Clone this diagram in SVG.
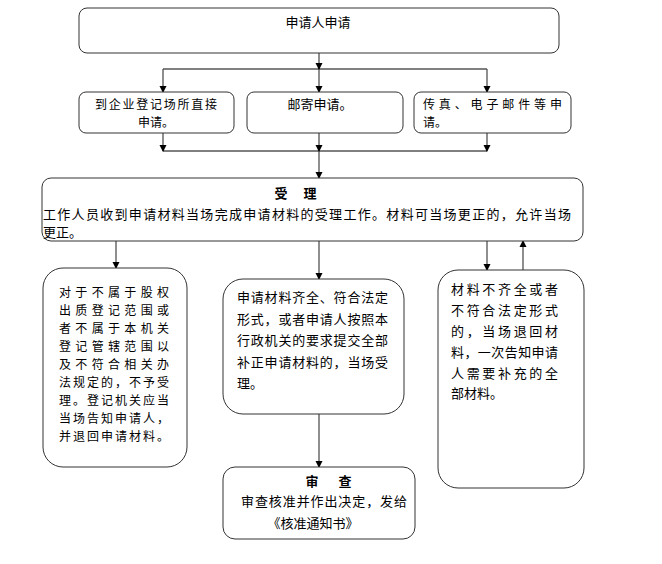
<svg xmlns="http://www.w3.org/2000/svg" width="662" height="564" viewBox="0 0 662 564">
<style>
.box{fill:#fff;stroke:#333;stroke-width:1}
.t{font-family:"Noto Sans CJK SC","Liberation Sans",sans-serif;font-size:13px;fill:#000}
.s{font-size:12px}
.b{font-weight:bold}
.c{text-anchor:middle}
.ln{stroke:#000;stroke-width:1;fill:none}
.vl{stroke:#444;stroke-width:1.2;fill:none}
</style>
<defs>
<marker id="ah" markerWidth="8" markerHeight="8" refX="6" refY="4" orient="auto" markerUnits="userSpaceOnUse">
<path d="M0,0.5 L7,4 L0,7.5 Z" fill="#000"/>
</marker>
</defs>
<rect width="662" height="564" fill="#fff"/>
<g id="connectors">
<line class="vl" x1="319" y1="53" x2="319" y2="69" marker-end="url(#ah)"/>
<line class="ln" x1="163" y1="69" x2="487" y2="69"/>
<line class="vl" x1="163" y1="69" x2="163" y2="92" marker-end="url(#ah)"/>
<line class="vl" x1="319" y1="69" x2="319" y2="92" marker-end="url(#ah)"/>
<line class="vl" x1="487" y1="69" x2="487" y2="92" marker-end="url(#ah)"/>
<line class="vl" x1="163" y1="133" x2="163" y2="151" marker-end="url(#ah)"/>
<line class="vl" x1="319" y1="133" x2="319" y2="151" marker-end="url(#ah)"/>
<line class="vl" x1="487" y1="133" x2="487" y2="151" marker-end="url(#ah)"/>
<line class="ln" x1="163" y1="151" x2="487" y2="151"/>
<line class="vl" x1="319" y1="151" x2="319" y2="178" marker-end="url(#ah)"/>
<line class="vl" x1="116" y1="241" x2="116" y2="268" marker-end="url(#ah)"/>
<line class="vl" x1="319" y1="241" x2="319" y2="279" marker-end="url(#ah)"/>
<line class="vl" x1="487" y1="241" x2="487" y2="270" marker-end="url(#ah)"/>
<line class="vl" x1="523" y1="270" x2="523" y2="241" marker-end="url(#ah)"/>
<line class="vl" x1="319" y1="414" x2="319" y2="467" marker-end="url(#ah)"/>
</g>
<g id="n-apply">
<rect class="box" x="79" y="8" width="480" height="45" rx="8"/>
<text class="t c" x="318" y="27">申请人申请</text>
</g>
<g id="n-direct">
<rect class="box" x="79" y="92" width="155" height="41" rx="7"/>
<text class="t s c" x="156" y="109" textLength="122" lengthAdjust="spacing">到企业登记场所直接</text>
<text class="t s c" x="156" y="127">申请。</text>
</g>
<g id="n-mail">
<rect class="box" x="247" y="92" width="156" height="41" rx="7"/>
<text class="t c" x="320" y="109">邮寄申请。</text>
</g>
<g id="n-fax">
<rect class="box" x="414" y="92" width="157" height="41" rx="7"/>
<text class="t s" x="423" y="109" textLength="139" lengthAdjust="spacing">传真、电子邮件等申</text>
<text class="t s" x="423" y="127">请。</text>
</g>
<g id="n-accept">
<rect class="box" x="42" y="178" width="541" height="63" rx="9"/>
<text class="t b c" x="281" y="198">受</text>
<text class="t b c" x="310" y="198">理</text>
<text class="t" x="43" y="219" textLength="528" lengthAdjust="spacing">工作人员收到申请材料当场完成申请材料的受理工作。材料可当场更正的，允许当场</text>
<text class="t" x="43" y="237">更正。</text>
</g>
<g id="n-reject">
<rect class="box" x="43" y="268" width="144" height="199" rx="20"/>
<text class="t s" x="59" y="297" textLength="110" lengthAdjust="spacing">对于不属于股权</text>
<text class="t s" x="59" y="315" textLength="110" lengthAdjust="spacing">出质登记范围或</text>
<text class="t s" x="59" y="333" textLength="110" lengthAdjust="spacing">者不属于本机关</text>
<text class="t s" x="59" y="351" textLength="110" lengthAdjust="spacing">登记管辖范围以</text>
<text class="t s" x="59" y="369" textLength="110" lengthAdjust="spacing">及不符合相关办</text>
<text class="t s" x="59" y="387" textLength="110" lengthAdjust="spacing">法规定的，不予受</text>
<text class="t s" x="59" y="405" textLength="110" lengthAdjust="spacing">理。登记机关应当</text>
<text class="t s" x="59" y="423" textLength="110" lengthAdjust="spacing">当场告知申请人，</text>
<text class="t s" x="59" y="441" textLength="110" lengthAdjust="spacing">并退回申请材料。</text>
</g>
<g id="n-ok">
<rect class="box" x="223" y="279" width="181" height="135" rx="20"/>
<text class="t" x="237" y="302" textLength="151" lengthAdjust="spacing">申请材料齐全、符合法定</text>
<text class="t" x="237" y="324" textLength="151" lengthAdjust="spacing">形式，或者申请人按照本</text>
<text class="t" x="237" y="345" textLength="151" lengthAdjust="spacing">行政机关的要求提交全部</text>
<text class="t" x="237" y="367" textLength="151" lengthAdjust="spacing">补正申请材料的，当场受</text>
<text class="t" x="237" y="388">理。</text>
</g>
<g id="n-incomplete">
<rect class="box" x="438" y="270" width="146" height="218" rx="20"/>
<text class="t" x="451" y="294" textLength="107" lengthAdjust="spacing">材料不齐全或者</text>
<text class="t" x="451" y="315" textLength="107" lengthAdjust="spacing">不符合法定形式</text>
<text class="t" x="451" y="336" textLength="107" lengthAdjust="spacing">的，当场退回材</text>
<text class="t" x="451" y="357" textLength="107" lengthAdjust="spacing">料，一次告知申请</text>
<text class="t" x="451" y="378" textLength="107" lengthAdjust="spacing">人需要补充的全</text>
<text class="t" x="451" y="398">部材料。</text>
</g>
<g id="n-review">
<rect class="box" x="223" y="467" width="192" height="72" rx="12"/>
<text class="t b c" x="312" y="486">审</text>
<text class="t b c" x="345" y="486">查</text>
<text class="t" x="241" y="506" textLength="166" lengthAdjust="spacing">审查核准并作出决定，发给</text>
<text class="t c" x="313" y="528">《核准通知书》</text>
</g>
</svg>
